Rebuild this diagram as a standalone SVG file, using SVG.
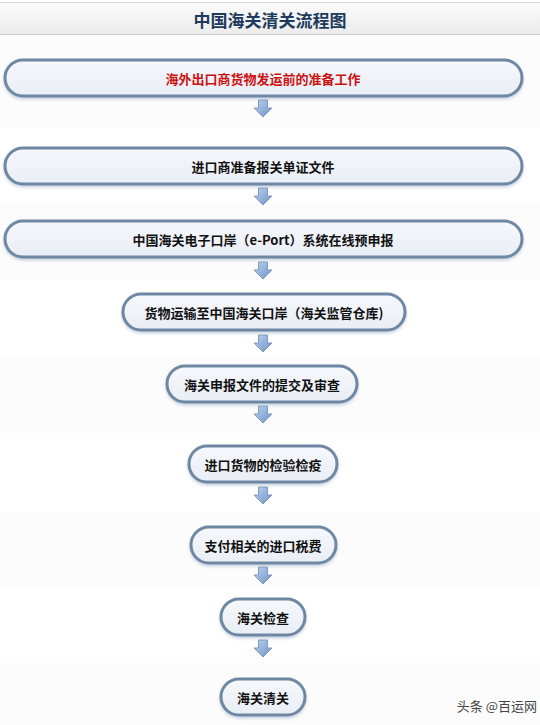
<svg xmlns="http://www.w3.org/2000/svg" width="540" height="725" viewBox="0 0 540 725">
<defs>
<linearGradient id="tb" x1="0" y1="0" x2="0" y2="1"><stop offset="0" stop-color="#fbfbfb"/><stop offset="1" stop-color="#ebebeb"/></linearGradient>
<linearGradient id="nf" x1="0" y1="0" x2="0" y2="1"><stop offset="0" stop-color="#f6f8fc"/><stop offset="1" stop-color="#e9edf5"/></linearGradient>
<linearGradient id="af" x1="0" y1="0" x2="1" y2="1"><stop offset="0" stop-color="#bcd3ee"/><stop offset="1" stop-color="#6d92c6"/></linearGradient>
<filter id="sh" x="-5%" y="-20%" width="110%" height="150%"><feDropShadow dx="0" dy="2" stdDeviation="1.5" flood-color="#8aa0c0" flood-opacity="0.45"/></filter>
<path id="arr" d="M-4.5,0 H4.5 V8 H9 L0,17 L-9,8 H-4.5 Z"/>
</defs>
<style>
.node rect{fill:url(#nf);stroke:#6e88a3;stroke-width:3;filter:url(#sh)}
.node text{font-family:"Noto Sans CJK SC","Microsoft YaHei",sans-serif;font-size:13px;font-weight:bold;fill:#111;text-anchor:middle;dominant-baseline:central}
.conn use{fill:url(#af);stroke:#7f9bc0;stroke-width:1;stroke-linejoin:round}
.band{fill:#fcfcfc}
</style>
<rect width="540" height="725" fill="#ffffff"/>
<rect class="band" x="0" y="35" width="540" height="92"/>
<rect class="band" x="0" y="203" width="540" height="77"/>
<rect class="band" x="0" y="357" width="540" height="76"/>
<rect class="band" x="0" y="513" width="540" height="74"/>
<rect class="band" x="0" y="663" width="540" height="62"/>
<g id="title">
<rect x="0" y="2" width="540" height="33" fill="url(#tb)"/>
<line x1="0" y1="2.5" x2="540" y2="2.5" stroke="#d6d6d6"/>
<line x1="0" y1="34.5" x2="540" y2="34.5" stroke="#cfcfcf"/>
<text x="270" y="19" font-family="'Noto Sans CJK SC',sans-serif" font-size="17" font-weight="bold" fill="#1d3b5c" text-anchor="middle" dominant-baseline="central">中国海关清关流程图</text>
</g>
<g id="connectors" class="conn">
<use href="#arr" x="263" y="100"/>
<use href="#arr" x="263" y="188"/>
<use href="#arr" x="263" y="262"/>
<use href="#arr" x="263" y="335"/>
<use href="#arr" x="263" y="406"/>
<use href="#arr" x="263" y="487"/>
<use href="#arr" x="263" y="567"/>
<use href="#arr" x="263" y="640"/>
</g>
<g id="n1" class="node"><rect x="5" y="60" width="517" height="36" rx="18"/><text x="263" y="78" style="fill:#cc1111">海外出口商货物发运前的准备工作</text></g>
<g id="n2" class="node"><rect x="5" y="148" width="517" height="36" rx="18"/><text x="263" y="166">进口商准备报关单证文件</text></g>
<g id="n3" class="node"><rect x="5" y="221" width="517" height="36" rx="18"/><text x="263" y="239">中国海关电子口岸（e-Port）系统在线预申报</text></g>
<g id="n4" class="node"><rect x="123" y="294" width="282" height="36" rx="18"/><text x="264" y="312">货物运输至中国海关口岸（海关监管仓库)</text></g>
<g id="n5" class="node"><rect x="167" y="366" width="190" height="36" rx="18"/><text x="262" y="384">海关申报文件的提交及审查</text></g>
<g id="n6" class="node"><rect x="189" y="446" width="148" height="36" rx="18"/><text x="263" y="464">进口货物的检验检疫</text></g>
<g id="n7" class="node"><rect x="191" y="527" width="145" height="36" rx="18"/><text x="263" y="545">支付相关的进口税费</text></g>
<g id="n8" class="node"><rect x="221" y="599" width="84" height="36" rx="18"/><text x="263" y="617">海关检查</text></g>
<g id="n9" class="node"><rect x="221" y="679" width="84" height="36" rx="18"/><text x="263" y="697">海关清关</text></g>
<text x="537" y="705" font-family="'Noto Sans CJK SC',sans-serif" font-size="13" fill="#444" stroke="#ffffff" stroke-width="2" paint-order="stroke" text-anchor="end" dominant-baseline="central">头条 @百运网</text>
</svg>
